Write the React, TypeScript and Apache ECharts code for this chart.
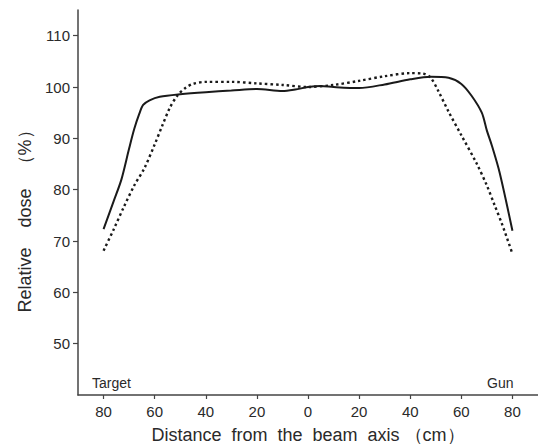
import React, { useEffect, useRef } from "react";
import * as echarts from "echarts";

// Distance from beam axis (cm): negative = target side, positive = gun side
const solidX = [-80, -76, -73, -70, -68, -66, -64.5, -62, -58, -50, -40, -30, -20, -10, -5, 0, 5, 10, 20, 30, 40, 48, 55, 60, 64, 68, 70, 72, 75, 80];
const solidY = [72.3, 77.8, 82, 88, 91.8, 94.8, 96.5, 97.4, 98.1, 98.6, 99, 99.3, 99.6, 99.2, 99.5, 100, 100.2, 100, 99.8, 100.5, 101.5, 102, 101.8, 100.6, 98.3, 95, 91.5, 88.5, 83.3, 72];

const dottedX = [-80, -76, -72, -68, -64, -60, -57, -54, -51, -48, -45, -40, -30, -20, -10, 0, 10, 20, 30, 40, 45, 48, 51, 55, 60, 66, 70, 73, 76, 80];
const dottedY = [68.1, 72.3, 76.7, 80.8, 84.2, 88.8, 92.5, 96, 98.4, 99.8, 100.6, 101, 101, 100.7, 100.4, 100, 100.4, 101.2, 102.1, 102.7, 102.6, 101.8, 99.2, 95.2, 90.6, 85.1, 80.8, 77, 73.2, 67.5];

const xTicks = [-80, -60, -40, -20, 0, 20, 40, 60, 80];
const yTicks = [50, 60, 70, 80, 90, 100, 110];

const xTitle = "Distance  from  the  beam  axis （cm）";
const yTitle = "Relative    dose   （%）";
const leftLabel = "Target";
const rightLabel = "Gun";

export default function App() {
  const ref = useRef<HTMLDivElement>(null);
  useEffect(() => {
    if (!ref.current) return;
    const chart = echarts.init(ref.current, null, { renderer: "svg" });
    const font = "Arial, 'Liberation Sans', Helvetica, sans-serif";
    const ink = "#2a2a2a";
    chart.setOption({
      animation: false,
      backgroundColor: "#ffffff",
      grid: { left: 78, right: 0, top: 10, bottom: 53, containLabel: false, outerBoundsMode: "none" },
      xAxis: {
        type: "value",
        min: -90,
        max: 90,
        name: xTitle,
        nameLocation: "middle",
        nameGap: 31,
        nameTextStyle: { fontFamily: font, fontSize: 18, color: ink },
        splitLine: { show: false },
        axisLine: { onZero: false, lineStyle: { color: "#444", width: 1.5 } },
        axisTick: { show: true, customValues: xTicks, length: 4, lineStyle: { color: "#444", width: 1.2 } },
        axisLabel: {
          customValues: xTicks,
          margin: 9,
          fontFamily: font,
          fontSize: 15,
          color: ink,
          formatter: (v: number) => String(Math.abs(v)),
        },
      },
      yAxis: {
        type: "value",
        min: 40,
        max: 115,
        name: yTitle,
        nameLocation: "middle",
        nameGap: 44,
        nameTextStyle: { fontFamily: font, fontSize: 18, color: ink, padding: [0, 29, 0, 0] },
        splitLine: { show: false },
        axisLine: { show: true, onZero: false, lineStyle: { color: "#444", width: 1.5 } },
        axisTick: { show: true, customValues: yTicks, length: 5, lineStyle: { color: "#444", width: 1.2 } },
        axisLabel: {
          customValues: yTicks,
          margin: 8,
          fontFamily: font,
          fontSize: 15,
          color: ink,
        },
      },
      graphic: [
        {
          type: "text",
          left: 92,
          top: 376,
          style: { text: leftLabel, fontFamily: font, fontSize: 14, fill: ink },
        },
        {
          type: "text",
          left: 487,
          top: 376,
          style: { text: rightLabel, fontFamily: font, fontSize: 14, fill: ink },
        },
      ],
      series: [
        {
          type: "line",
          data: solidX.map((x, i) => [x, solidY[i]]),
          smooth: 0.3,
          symbol: "none",
          lineStyle: { color: "#1a1a1a", width: 2 },
        },
        {
          type: "line",
          data: dottedX.map((x, i) => [x, dottedY[i]]),
          smooth: 0.3,
          symbol: "none",
          lineStyle: { color: "#1a1a1a", width: 2.4, type: [2.5, 3] },
        },
      ],
    });
    return () => chart.dispose();
  }, []);
  return <div ref={ref} style={{ width: 538, height: 448, position: "absolute", left: 0, top: 0 }} />;
}
